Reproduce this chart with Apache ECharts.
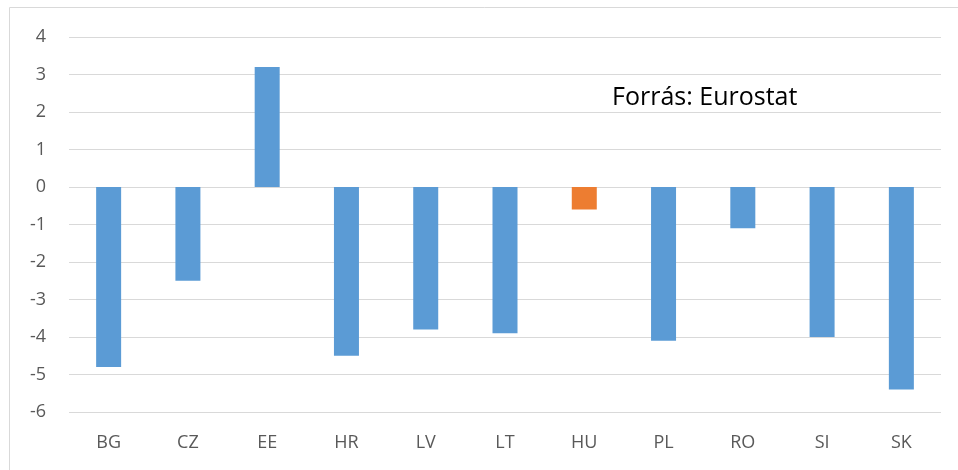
<!DOCTYPE html>
<html>
<head>
<meta charset="utf-8">
<script src="https://cdn.jsdelivr.net/npm/echarts@6/dist/echarts.min.js"></script>
<style>
  html, body { margin: 0; padding: 0; background: #fff; }
  #main { width: 958px; height: 470px; }
</style>
</head>
<body>
<div id="main"></div>
<script>
// országok és értékek
var countries = ['BG', 'CZ', 'EE', 'HR', 'LV', 'LT', 'HU', 'PL', 'RO', 'SI', 'SK'];
var values = [-4.8, -2.5, 3.2, -4.5, -3.8, -3.9, -0.6, -4.1, -1.1, -4.0, -5.4];
var highlight = 'HU';
var sourceText = 'Forrás: Eurostat';

var myChart = echarts.init(document.getElementById('main'));

var seriesData = values.map(function (v, i) {
  if (countries[i] === highlight) {
    return { value: v, itemStyle: { color: '#ED7D31' } };
  }
  return v;
});

myChart.setOption({
  animation: false,
  grid: { left: 69, right: 17, top: 37, bottom: 58 },
  graphic: [
    { // keret
      type: 'rect',
      shape: { x: 9.5, y: 7.5, width: 980, height: 500 },
      style: { fill: 'none', stroke: '#d9d9d9', lineWidth: 1 },
      silent: true
    },
    {
      type: 'text',
      left: 612,
      top: 85,
      style: {
        text: sourceText,
        fill: '#000',
        font: '25px "Open Sans", sans-serif'
      }
    }
  ],
  xAxis: {
    type: 'category',
    data: countries,
    position: 'bottom',
    axisLine: { show: false },
    axisTick: { show: false },
    axisLabel: {
      color: '#595959',
      fontSize: 18,
      fontFamily: '"Open Sans", sans-serif',
      margin: 22,
      interval: 0
    }
  },
  yAxis: {
    type: 'value',
    min: -6,
    max: 4,
    interval: 1,
    axisLine: { show: false },
    axisTick: { show: false },
    axisLabel: {
      color: '#595959',
      fontSize: 18,
      fontFamily: '"Open Sans", sans-serif',
      margin: 23
    },
    splitLine: { lineStyle: { color: '#d9d9d9', width: 1 } }
  },
  series: [{
    type: 'bar',
    data: seriesData,
    barWidth: 25,
    itemStyle: { color: '#5B9BD5' }
  }]
});
</script>
</body>
</html>
